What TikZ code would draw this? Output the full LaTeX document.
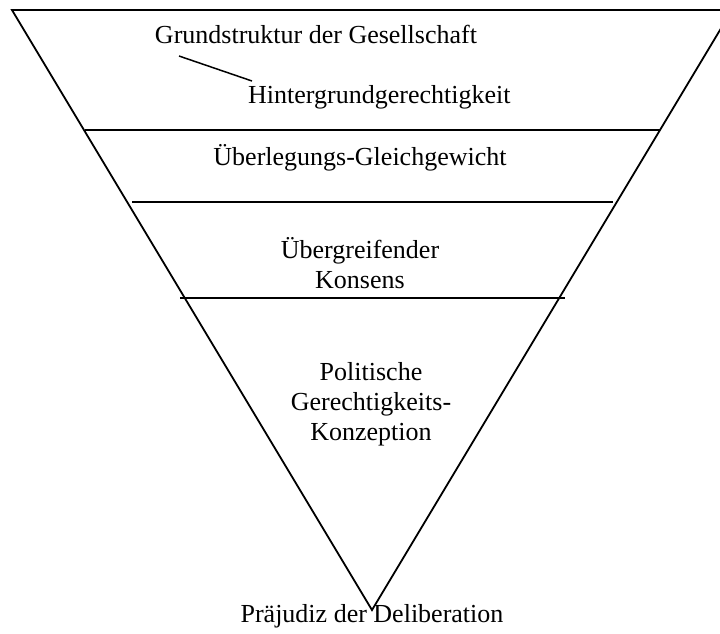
\documentclass[tikz,border=0pt]{standalone}
\usepackage{fontspec}
\setmainfont{Liberation Serif}
\begin{document}
\begin{tikzpicture}[x=1pt,y=-1pt,
  shape line/.style={line width=1.8pt, line join=miter},
  lbl/.style={anchor=base, inner sep=0pt, font=\fontsize{26}{30}\selectfont, align=center}]
\useasboundingbox (0,0) rectangle (720,633);
\clip (0,0) rectangle (720,633);
% inverted triangle
\draw[shape line] (12,10) -- (732,10) -- (372,610) -- cycle;
% layer lines
\draw[shape line] (85,130) -- (660,130);
\draw[shape line] (132,202) -- (613,202);
\draw[shape line] (180,298) -- (565,298);
% labels
\node[lbl] (gs) at (316,43) {Grundstruktur der Gesellschaft};
\node[lbl, anchor=base west] (hg) at (248,103) {Hintergrundgerechtigkeit};
\node[lbl] (ug) at (360,165) {Überlegungs-Gleichgewicht};
\node[lbl] (uk) at (360,288) {Übergreifender\\Konsens};
\node[lbl] (pg) at (371,440) {Politische\\Gerechtigkeits-\\Konzeption};
\node[lbl] (pd) at (372,622) {Präjudiz der Deliberation};
% connector
\coordinate (c1) at (179,56);
\coordinate (c2) at (252,81);
\draw[line width=1.5pt] (c1) -- (c2);
\end{tikzpicture}
\end{document}
